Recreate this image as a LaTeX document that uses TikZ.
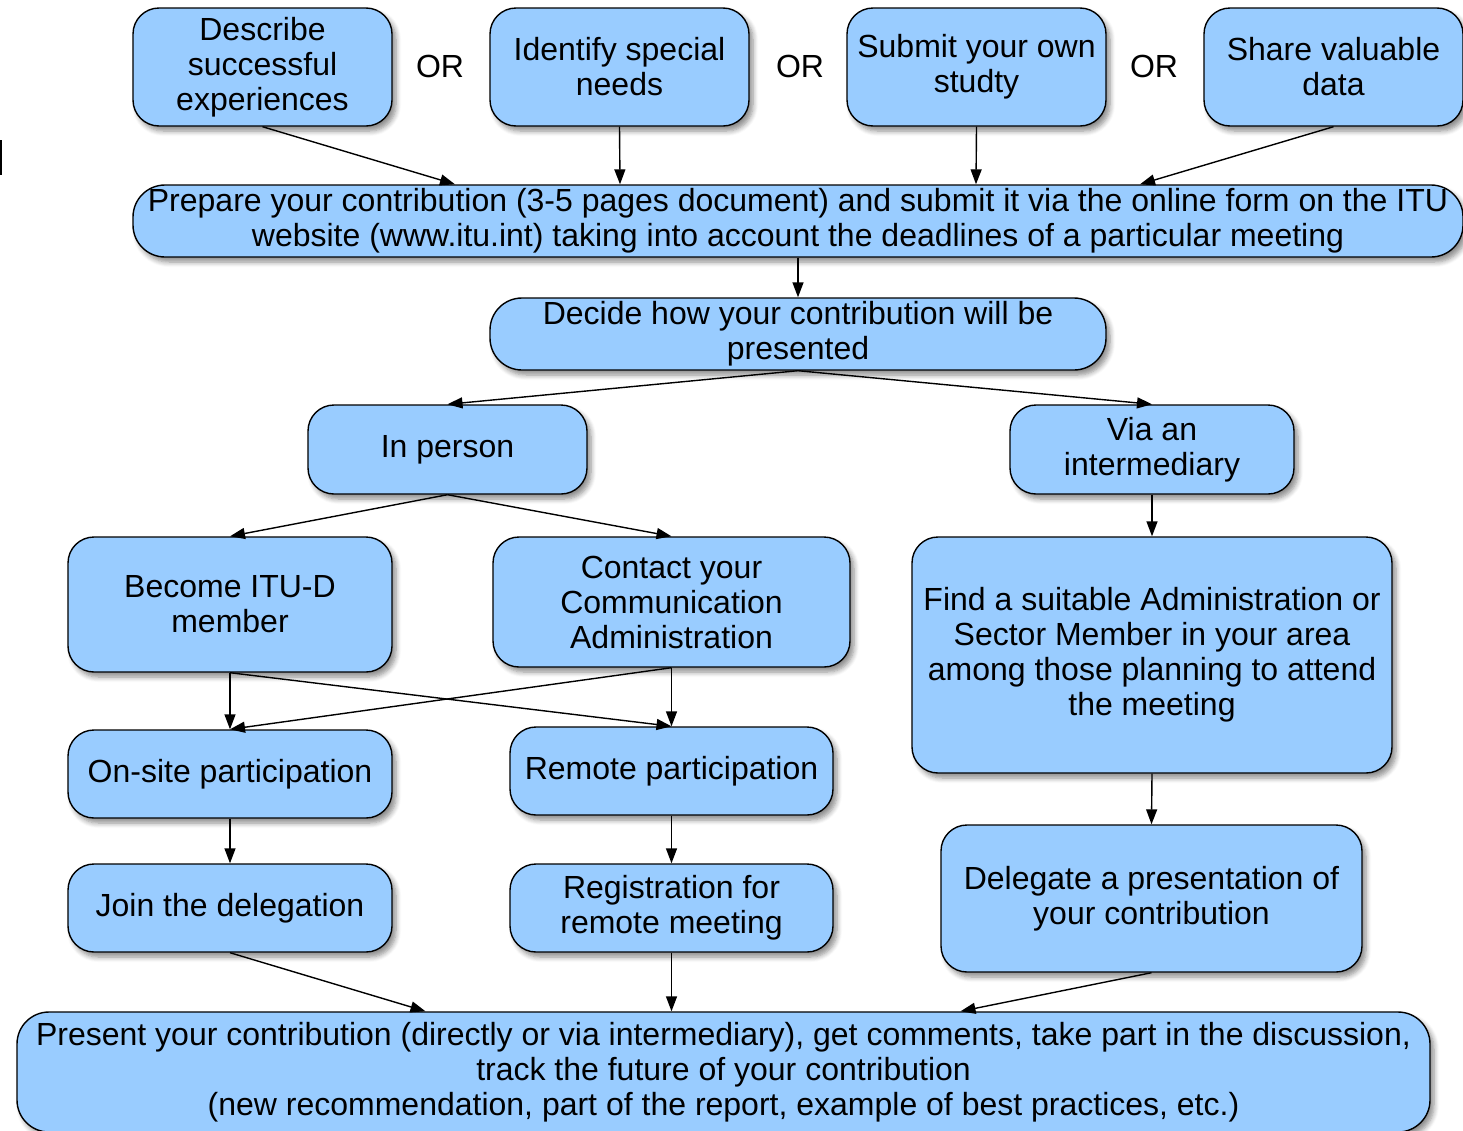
\documentclass[tikz,border=0pt]{standalone}
\usepackage{fontspec}
\setmainfont{Liberation Sans}
\usetikzlibrary{arrows.meta,shadows.blur}
\definecolor{boxBlue}{HTML}{99CCFF}
\tikzstyle{flowboxes}=[%
	every path/.style = {%
		black,
		line width=1.4pt
	},%
	every node/.style = {%
		font=\fontsize{32}{35}\selectfont
	},%
	myBox/.style={%
		draw,
		fill=boxBlue,
		rounded corners=26pt,
		align=center,
		inner sep=0pt,
		blur shadow={shadow xshift=4pt, shadow yshift=-5pt, shadow blur radius=5pt, shadow blur steps=6, shadow opacity=45}
	},
	myArrow/.style={%
		-{Triangle[length=15pt,width=11pt]}
	}
]

\begin{document}
\begin{tikzpicture}[
	x=1pt,
	y=-1pt,
	flowboxes
]
	\useasboundingbox (0,0) rectangle (1463,1130);
	\draw (1,140) -- (1,175);

	\node[myBox, minimum width=259pt, minimum height=118pt] (describe) at (262.5,67) {Describe\\successful\\experiences};
	\node[myBox, minimum width=259pt, minimum height=118pt] (identify) at (619.5,67) {Identify special\\needs};
	\node[myBox, minimum width=259pt, minimum height=118pt] (submit) at (976.5,67) {Submit your own\\studty};
	\node[myBox, minimum width=259pt, minimum height=118pt] (share) at (1333.5,67) {Share valuable\\data};

	\node (or1) at (440,66) {OR};
	\node (or2) at (800,66) {OR};
	\node (or3) at (1154,66) {OR};

	\node[myBox, minimum width=1330pt, minimum height=72pt, rounded corners=32pt] (prepare) at (798,221)
		{Prepare your contribution (3-5 pages document) and submit it via the online form on the ITU\\website (www.itu.int) taking into account the deadlines of a particular meeting};
	\node[myBox, minimum width=616pt, minimum height=72pt, rounded corners=32pt] (decide) at (798,334)
		{Decide how your contribution will be\\presented};

	\node[myBox, minimum width=279pt, minimum height=89pt] (inperson) at (447.5,449.5) {In person};
	\node[myBox, minimum width=284pt, minimum height=89pt] (via) at (1152,449.5) {Via an\\intermediary};

	\node[myBox, minimum width=324pt, minimum height=135pt] (become) at (230,604.5) {Become ITU-D\\member};
	\node[myBox, minimum width=357pt, minimum height=130pt] (contact) at (671.5,602) {Contact your\\Communication\\Administration};
	\node[myBox, minimum width=480pt, minimum height=236pt] (find) at (1152,655)
		{Find a suitable Administration or\\Sector Member in your area\\among those planning to attend\\the meeting};

	\node[myBox, minimum width=324pt, minimum height=88pt] (onsite) at (230,774) {On-site participation};
	\node[myBox, minimum width=323pt, minimum height=88pt] (remote) at (671.5,771) {Remote participation};

	\node[myBox, minimum width=324pt, minimum height=88pt] (join) at (230,908) {Join the delegation};
	\node[myBox, minimum width=323pt, minimum height=88pt] (registration) at (671.5,908) {Registration for\\remote meeting};
	\node[myBox, minimum width=421pt, minimum height=147pt] (delegate) at (1151.5,898.5) {Delegate a presentation of\\your contribution};

	\node[myBox, minimum width=1413pt, minimum height=120pt, rounded corners=32pt] (present) at (723.5,1072)
		{Present your contribution (directly or via intermediary), get comments, take part in the discussion,\\track the future of your contribution\\(new recommendation, part of the report, example of best practices, etc.)};

	\draw[myArrow] (describe.south) -- ([xshift=-343pt]prepare.north);
	\draw[myArrow] (identify.south) -- ([xshift=-178pt]prepare.north);
	\draw[myArrow] (submit.south) -- ([xshift=178pt]prepare.north);
	\draw[myArrow] (share.south) -- ([xshift=342pt]prepare.north);
	\draw[myArrow] (prepare.south) -- (decide.north);
	\draw[myArrow] (decide.south) -- (inperson.north);
	\draw[myArrow] (decide.south) -- (via.north);
	\draw[myArrow] (inperson.south) -- (become.north);
	\draw[myArrow] (inperson.south) -- (contact.north);
	\draw[myArrow] (via.south) -- (find.north);
	\draw[myArrow] (become.south) -- (onsite.north);
	\draw[myArrow] (become.south) -- (remote.north);
	\draw[myArrow] (contact.south) -- (onsite.north);
	\draw[myArrow] (contact.south) -- (remote.north);
	\draw[myArrow] (onsite.south) -- (join.north);
	\draw[myArrow] (remote.south) -- (registration.north);
	\draw[myArrow] (find.south) -- (delegate.north);
	\draw[myArrow] (join.south) -- ([xshift=-298pt]present.north);
	\draw[myArrow] (registration.south) -- ([xshift=-52pt]present.north);
	\draw[myArrow] (delegate.south) -- ([xshift=237pt]present.north);
\end{tikzpicture}
\end{document}
